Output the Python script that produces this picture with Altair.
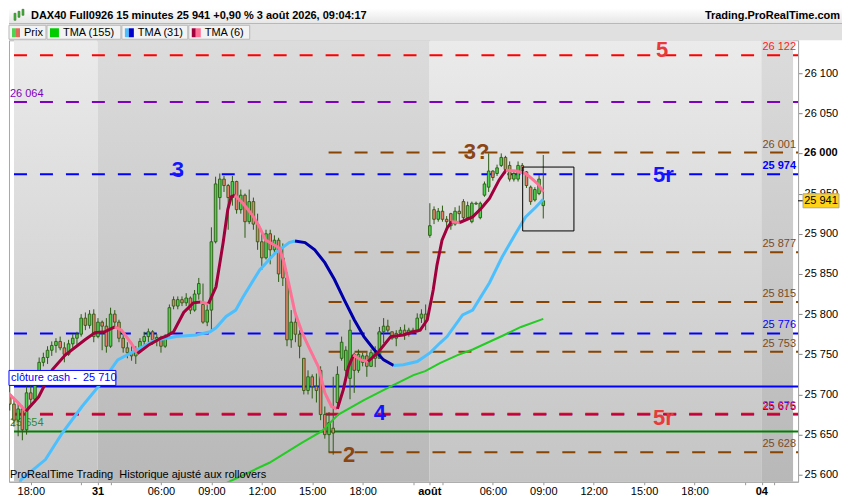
import altair as alt
import pandas as pd

# ------------------------------------------------------------------ data
bar_pos = list(range(-5, 123))
opens = [25700, 25688, 25668, 25682, 25656, 25702, 25694, 25720, 25740, 25746,
         25755, 25761, 25766, 25758, 25750, 25763, 25770, 25775, 25795, 25786,
         25800, 25772, 25790, 25785, 25760, 25800, 25790, 25770, 25758, 25752,
         25748, 25755, 25766, 25772, 25778, 25768, 25771, 25760, 25775, 25818,
         25810, 25818, 25814, 25820, 25805, 25825, 25812, 25790, 25805, 25890,
         25945, 25968, 25960, 25945, 25965, 25930, 25948, 25915, 25940, 25912,
         25890, 25870, 25900, 25880, 25892, 25870, 25845, 25768, 25790, 25775,
         25745, 25705, 25722, 25710, 25730, 25675, 25650, 25658, 25690, 25745,
         25730, 25720, 25750, 25730, 25740, 25748, 25735, 25752, 25745, 25778,
         25785, 25778, 25770, 25776, 25780, 25775, 25780, 25778, 25795, 25800,
         25898, 25930, 25918, 25928, 25918, 25925, 25912, 25928, 25940, 25920,
         25915, 25938, 25920, 25948, 25958, 25978, 25975, 25985, 25995, 25985,
         25968, 25968, 25985, 25977, 25958, 25942, 25950, 25935]
highs = [25712, 25695, 25690, 25686, 25710, 25712, 25726, 25746, 25752, 25760,
         25766, 25770, 25772, 25765, 25768, 25775, 25778, 25800, 25802, 25805,
         25806, 25795, 25792, 25795, 25808, 25805, 25793, 25775, 25765, 25760,
         25760, 25770, 25778, 25782, 25780, 25775, 25773, 25775, 25812, 25822,
         25822, 25822, 25826, 25822, 25830, 25845, 25838, 25812, 25908, 25971,
         25975, 25972, 25962, 25972, 25966, 25955, 25950, 25955, 25945, 25925,
         25900, 25905, 25905, 25898, 25895, 25888, 25852, 25805, 25802, 25780,
         25745, 25730, 25725, 25726, 25735, 25685, 25678, 25722, 25735, 25772,
         25760, 25793, 25752, 25756, 25752, 25752, 25756, 25760, 25784, 25795,
         25793, 25778, 25780, 25784, 25787, 25783, 25783, 25801, 25806, 25812,
         25938, 25934, 25932, 25935, 25922, 25926, 25933, 25935, 25943, 25940,
         25940, 25940, 25940, 25965, 26000, 25979, 25986, 26000, 25997, 25990,
         25977, 25990, 25988, 25978, 25960, 25958, 25973, 25998]
lows = [25680, 25660, 25648, 25643, 25650, 25685, 25690, 25710, 25735, 25738,
        25748, 25752, 25755, 25740, 25748, 25758, 25762, 25772, 25780, 25782,
        25765, 25770, 25755, 25752, 25758, 25782, 25765, 25752, 25745, 25742,
        25738, 25752, 25760, 25765, 25762, 25760, 25752, 25758, 25770, 25806,
        25806, 25810, 25810, 25800, 25803, 25818, 25788, 25785, 25780, 25888,
        25930, 25952, 25905, 25935, 25925, 25925, 25895, 25912, 25905, 25880,
        25855, 25868, 25862, 25875, 25840, 25835, 25760, 25758, 25765, 25745,
        25700, 25700, 25695, 25690, 25668, 25645, 25628, 25625, 25685, 25742,
        25722, 25694, 25702, 25727, 25735, 25722, 25735, 25734, 25745, 25764,
        25777, 25768, 25760, 25774, 25768, 25772, 25776, 25778, 25789, 25780,
        25895, 25912, 25915, 25915, 25905, 25905, 25910, 25912, 25915, 25918,
        25913, 25936, 25918, 25946, 25952, 25966, 25972, 25983, 25975, 25965,
        25965, 25965, 25975, 25957, 25936, 25940, 25948, 25919]
closes = [25688, 25668, 25682, 25656, 25702, 25694, 25720, 25740, 25746, 25755,
          25761, 25766, 25758, 25750, 25763, 25770, 25775, 25795, 25786, 25800,
          25772, 25790, 25785, 25760, 25800, 25790, 25770, 25758, 25752, 25748,
          25755, 25766, 25772, 25778, 25768, 25771, 25760, 25772, 25808, 25810,
          25818, 25814, 25820, 25805, 25825, 25838, 25790, 25805, 25890, 25962,
          25968, 25960, 25945, 25965, 25930, 25948, 25915, 25940, 25912, 25890,
          25870, 25900, 25880, 25892, 25850, 25845, 25768, 25790, 25775, 25760,
          25705, 25722, 25710, 25705, 25675, 25650, 25665, 25652, 25725, 25765,
          25755, 25780, 25730, 25750, 25748, 25735, 25752, 25745, 25778, 25785,
          25780, 25770, 25776, 25780, 25775, 25780, 25778, 25795, 25800, 25790,
          25910, 25918, 25928, 25918, 25915, 25910, 25928, 25925, 25920, 25935,
          25938, 25937, 25938, 25962, 25978, 25970, 25982, 25995, 25980, 25968,
          25975, 25985, 25978, 25960, 25940, 25955, 25968, 25941]

# TMA (6): segment id, bar position, value, direction
tma6_seg = [0, 0, 0,
            1, 1, 1, 1, 1, 1, 1, 1,
            2, 2, 2, 2,
            3, 3, 3, 3, 3, 3, 3, 3,
            4, 4,
            5, 5, 5, 5, 5, 5,
            6, 6, 6, 6, 6, 6, 6, 6, 6, 6, 6, 6, 6, 6, 6, 6,
            7, 7, 7, 7,
            8, 8, 8,
            9, 9, 9, 9, 9, 9, 9, 9, 9, 9, 9, 9,
            10, 10,
            11, 11, 11, 11, 11, 11,
            12, 12, 12, 12, 12, 12]
tma6_p = [-5.4, -3.05, -1.17,
          -1.17, 1.88, 5.16, 8.2, 12.9, 15.3, 17.6, 20.0,
          20.0, 21.6, 23.9, 25.4,
          25.4, 28.2, 31.0, 32.4, 34.0, 36.4, 38.7, 40.4,
          40.4, 42.3,
          42.3, 44.1, 45.8, 46.9, 47.7, 48.6,
          48.6, 50.5, 52.8, 54.5, 55.9, 58.0, 59.2, 60.3, 61.5, 62.9, 64.6, 66.2, 68.5, 70.0, 71.6, 73.0,
          73.0, 74.4, 75.6, 76.8,
          76.8, 78.6, 80.3,
          80.3, 82.6, 85.7, 88.7, 91.1, 92.7, 94.4, 95.8, 96.7, 97.9, 99.1, 100.2,
          100.2, 102.1,
          102.1, 105.2, 107.3, 109.2, 111.5, 113.1,
          113.1, 115.5, 117.8, 119.2, 120.9, 122.0]
tma6_v = [25702, 25690, 25679,
          25679, 25697, 25731, 25749, 25768, 25777, 25778, 25784,
          25784, 25780, 25764, 25751,
          25751, 25762, 25770, 25773, 25778, 25802, 25814, 25815,
          25815, 25813,
          25813, 25834, 25889, 25930, 25946, 25948,
          25948, 25938, 25923, 25908, 25892, 25886, 25882, 25864, 25836, 25802, 25777, 25759, 25734, 25702, 25685, 25682,
          25682, 25706, 25734, 25749,
          25749, 25743, 25741,
          25741, 25752, 25772, 25774, 25778, 25780, 25793, 25830, 25861, 25892, 25907, 25915,
          25915, 25914,
          25914, 25921, 25932, 25944, 25967, 25979,
          25979, 25978, 25975, 25969, 25961, 25952]
tma6_dir = ["dn", "up", "dn", "up", "dn", "up", "dn", "up", "dn", "up", "dn", "up", "dn"]

# TMA (31)
tma31_seg = [0] * 20 + [1] * 11 + [2] * 14
tma31_p = [-3.0, -2.3, 3.5, 7.5, 12.2, 16.9, 20.7, 25.4, 29.3, 34.7, 39.4, 42.7, 44.1, 46.5, 48.8, 50.5, 54.5, 58.2, 61.5, 62.9,
           62.9, 65.3, 67.6, 70.0, 72.3, 74.6, 77.0, 79.3, 81.7, 84.0, 86.4,
           86.4, 88.7, 92.0, 95.1, 97.4, 99.1, 102.8, 105.2, 109.2, 112.2, 115.5, 117.8, 120.2, 122.0]
tma31_v = [25585, 25594, 25619, 25652, 25685, 25715, 25743, 25756, 25767, 25772, 25774, 25778, 25783, 25797, 25805, 25821, 25855, 25876, 25889, 25891,
           25891, 25889, 25880, 25864, 25843, 25818, 25793, 25772, 25756, 25743, 25736,
           25736, 25737, 25741, 25752, 25764, 25772, 25799, 25805, 25839, 25871, 25901, 25921, 25933, 25943]
tma31_dir = ["up", "dn", "up"]

# TMA (155)
tma155_p = [45.8, 56.8, 64.6, 69.2, 73.2, 79.3, 85.7, 91.1, 93.9, 97.4, 101.6, 105.2, 112.7, 116.7, 122.0]
tma155_v = [25588, 25615, 25640, 25654, 25675, 25693, 25710, 25724, 25729, 25739, 25749, 25756, 25774, 25784, 25794]

# horizontal levels
level_val = [26122, 26064, 26001, 25974, 25877, 25815, 25776, 25753, 25710, 25675, 25676, 25654, 25628]
level_kind = ["red", "purple", "brown", "blue", "brown", "brown", "blue", "brown", "blue", "blue", "red", "green", "brown"]
level_dashed = [True, True, True, True, True, True, True, True, False, True, True, False, True]
level_from = [None, None, 70.9, None, 70.9, 70.9, None, 70.9, None, None, None, None, 70.9]

right_val = [26122, 26001, 25974, 25877, 25815, 25776, 25753, 25675, 25676, 25628]
right_txt = ["26 122", "26 001", "25 974", "25 877", "25 815", "25 776", "25 753", "25 675", "25 676", "25 628"]
right_kind = ["red", "brown", "blue", "brown", "brown", "blue", "brown", "blue", "red", "brown"]
right_bold = [False, False, True, False, False, False, False, False, False, False]

left_val = [26064, 25654]
left_txt = ["26 064", "25 654"]
left_kind = ["purple", "green"]

ann_txt = ["5", "3", "5r", "3?", "4", "5r", "2"]
ann_p = [150.3, 35.0, 150.6, 106.1, 83.1, 150.6, 75.8]
ann_v = [26129, 25979, 25973, 26002, 25677, 25671, 25625]
ann_kind = ["red", "blue", "blue", "brown", "blue", "red", "brown"]

box_p = [117.1, 129.3]
box_v = [25903.5, 25983]

cash_close = 25710
last_price = 25941

price_ticks = [25600, 25650, 25700, 25750, 25800, 25850, 25900, 25950, 26000, 26050, 26100, 26150]
bold_price = 26000
time_ticks = [0, 12, 16, 19, 31, 43, 55, 67, 79, 91, 95, 98, 110, 122, 134, 146, 158, 170, 174, 177]
time_labels = ["18:00", "", "31", "", "06:00", "09:00", "12:00", "15:00", "18:00", "", "août", "",
               "06:00", "09:00", "12:00", "15:00", "18:00", "", "04", ""]
day_ticks = [16, 95, 174]
day_bounds = [15.9, 94.9, 173.9]

title_txt = "DAX40 Full0926 15 minutes 25 941 +0,90 % 3 août 2026, 09:04:17"
site_txt = "Trading.ProRealTime.com"
footer_txt = "ProRealTime Trading\u00a0 Historique ajusté aux rollovers"
legend_txt = ["Prix", "TMA (155)", "TMA (31)", "TMA (6)"]

# ------------------------------------------------------------------ styling
W, H = 790, 442
P_MIN, P_MAX = -3.99, 181.46
V_MIN, V_MAX = 25591.4, 26140.8
FONT = "Liberation Sans"

LINE_COL = {"red": "#ff0000", "purple": "#8000c0", "brown": "#884400", "blue": "#0000ff", "green": "#008000"}
LBL_COL = {"red": "#ff1a1a", "purple": "#8000c0", "brown": "#7d4a1c", "blue": "#0000ff", "green": "#2e8b2e"}
ANN_COL = {"red": "#e83a3a", "blue": "#1414ff", "brown": "#8b4513"}
T6 = {"up": "#a0003c", "dn": "#ff7096"}
T31 = {"up": "#4cc0ff", "dn": "#0000aa"}

xs = alt.Scale(domain=[P_MIN, P_MAX], nice=False, zero=False)
ys = alt.Scale(domain=[V_MIN, V_MAX], nice=False, zero=False)

one = pd.DataFrame({"a": [0]})

def grad(c0, c1):
    return alt.Gradient(gradient="linear",
                        stops=[alt.GradientStop(color=c0, offset=0), alt.GradientStop(color=c1, offset=1)],
                        x1=0, x2=0, y1=0, y2=1)

def prect(x0, x1, y0, y1, **mk):
    return alt.Chart(one).mark_rect(**mk).encode(
        x=alt.value(x0), x2=alt.value(x1), y=alt.value(y0), y2=alt.value(y1))

def ptext(x, y, s, **mk):
    base = dict(font=FONT, fontSize=11, baseline="middle", align="left", color="black")
    base.update(mk)
    return alt.Chart(one).mark_text(**base).encode(x=alt.value(x), y=alt.value(y), text=alt.value(s))

# ------------------------------------------------------------------ frames
candles = pd.DataFrame({"p": bar_pos, "o": opens, "h": highs, "l": lows, "c": closes})
candles["dir"] = ["up" if c >= o else "dn" for o, c in zip(opens, closes)]

t6 = pd.DataFrame({"seg": tma6_seg, "p": tma6_p, "v": tma6_v})
t6["col"] = [T6[tma6_dir[s]] for s in tma6_seg]
t31 = pd.DataFrame({"seg": tma31_seg, "p": tma31_p, "v": tma31_v})
t31["col"] = [T31[tma31_dir[s]] for s in tma31_seg]
t155 = pd.DataFrame({"p": tma155_p, "v": tma155_v})

lv = pd.DataFrame({"v": level_val, "kind": level_kind, "dashed": level_dashed,
                   "x0": [P_MIN if f is None else f for f in level_from]})
lv["col"] = [LINE_COL[k] for k in level_kind]
lv_dash = lv[lv.dashed]
lv_solid = lv[~lv.dashed]

rl = pd.DataFrame({"v": right_val, "t": right_txt, "col": [LBL_COL[k] for k in right_kind], "b": right_bold})
rl_norm = rl[~rl.b]
rl_bold = rl[rl.b]
ll = pd.DataFrame({"v": left_val, "t": left_txt, "col": [LBL_COL[k] for k in left_kind]})
ann = pd.DataFrame({"t": ann_txt, "p": ann_p, "v": ann_v, "col": [ANN_COL[k] for k in ann_kind]})

edges = [P_MIN] + day_bounds + [P_MAX]
days = pd.DataFrame({"x0": edges[:-1], "x1": edges[1:]})
light_days = days.iloc[[0, 2]]
dark_days = days.iloc[[1, 3]]

day_lbl = pd.DataFrame({"p": day_ticks, "t": [time_labels[time_ticks.index(d)] for d in day_ticks]})
bold_lbl = pd.DataFrame({"v": [bold_price], "t": ["26 000"]})

# ------------------------------------------------------------------ axes
# day names and the 26 000 level are written bold by text layers; the axes write the rest
plain_labels = ["" if t in day_ticks else s for t, s in zip(time_ticks, time_labels)]
lab_arr = "[" + ",".join("'" + s + "'" for s in plain_labels) + "]"
pos_arr = "[" + ",".join(str(v) for v in time_ticks) + "]"

xaxis = alt.Axis(values=time_ticks, labelExpr=f"{lab_arr}[indexof({pos_arr}, datum.value)]",
                 title=None, grid=False, labelFont=FONT, labelFontSize=11, labelColor="black",
                 tickColor="#999999", tickSize=3, labelPadding=1, domainColor="#a8a8a8",
                 labelFlush=False, labelOverlap=False)
yaxis = alt.Axis(orient="right", values=price_ticks,
                 labelExpr=f"datum.value == {bold_price} ? '' : replace(format(datum.value, ','), ',', ' ')",
                 title=None, grid=False, labelFont=FONT, labelFontSize=11, labelColor="black",
                 tickColor="#888888", tickSize=4, labelPadding=2, domainColor="#a8a8a8",
                 labelFlush=False, labelOverlap=False)

# other layers leave the axis unspecified so the one explicit axis is kept when merged
def X(f, **k):
    return alt.X(f, scale=xs, **k)

def Y(f, **k):
    return alt.Y(f, scale=ys, **k)

# ------------------------------------------------------------------ layers
bg_light = alt.Chart(light_days).mark_rect(fill=grad("#ebebeb", "#c4c4c4")).encode(
    x=alt.X("x0:Q", scale=xs, axis=xaxis), x2="x1:Q", y=alt.value(0), y2=alt.value(H))
bg_dark = alt.Chart(dark_days).mark_rect(fill=grad("#dcdcdc", "#b8b8b8")).encode(
    x=X("x0:Q"), x2="x1:Q", y=alt.value(0), y2=alt.value(H))

lines_dash = alt.Chart(lv_dash).mark_rule(strokeWidth=2, strokeDash=[13, 13]).encode(
    x=X("x0:Q"), x2=alt.value(W), y=alt.Y("v:Q", scale=ys, axis=yaxis), color=alt.Color("col:N", scale=None))
lines_solid = alt.Chart(lv_solid).mark_rule(strokeWidth=2).encode(
    x=X("x0:Q"), x2=alt.value(W), y=Y("v:Q"), color=alt.Color("col:N", scale=None))

right_lbl = alt.Chart(rl_norm).mark_text(font=FONT, fontSize=11, align="right", baseline="middle", dy=-8).encode(
    x=alt.value(W - 2), y=Y("v:Q"), text="t:N", color=alt.Color("col:N", scale=None))
right_lbl_b = alt.Chart(rl_bold).mark_text(font=FONT, fontSize=11, fontWeight="bold", align="right",
                                           baseline="middle", dy=-8).encode(
    x=alt.value(W - 2), y=Y("v:Q"), text="t:N", color=alt.Color("col:N", scale=None))
left_lbl = alt.Chart(ll).mark_text(font=FONT, fontSize=11, align="left", baseline="middle", dy=-8).encode(
    x=alt.value(1), y=Y("v:Q"), text="t:N", color=alt.Color("col:N", scale=None))

wicks = alt.Chart(candles).mark_rule(color="#2b5a12", strokeWidth=1, clip=True).encode(
    x=X("p:Q"), y=Y("l:Q"), y2="h:Q")
bodies = alt.Chart(candles).mark_bar(size=2.6, stroke="#2b5a12", strokeWidth=0.9, clip=True).encode(
    x=X("p:Q"), y=Y("o:Q"), y2="c:Q",
    color=alt.Color("dir:N", scale=alt.Scale(domain=["up", "dn"], range=["#4fd24f", "#e8826e"]), legend=None))

l155 = alt.Chart(t155).mark_line(strokeWidth=2, color="#22cc22", clip=True).encode(x=X("p:Q"), y=Y("v:Q"))
l31 = alt.Chart(t31).mark_line(strokeWidth=3, clip=True).encode(
    x=X("p:Q"), y=Y("v:Q"), detail="seg:N", color=alt.Color("col:N", scale=None))
l6 = alt.Chart(t6).mark_line(strokeWidth=3, clip=True).encode(
    x=X("p:Q"), y=Y("v:Q"), detail="seg:N", color=alt.Color("col:N", scale=None))

box = alt.Chart(pd.DataFrame({"p0": [box_p[0]], "p1": [box_p[1]], "v0": [box_v[0]], "v1": [box_v[1]]})).mark_rect(
    fillOpacity=0, stroke="black", strokeWidth=1).encode(x=X("p0:Q"), x2="p1:Q", y=Y("v0:Q"), y2="v1:Q")

annot = alt.Chart(ann).mark_text(font=FONT, fontSize=22, fontWeight="bold", align="center", baseline="middle").encode(
    x=X("p:Q"), y=Y("v:Q"), text="t:N", color=alt.Color("col:N", scale=None))

cash_df = pd.DataFrame({"v": [cash_close], "t": ["clôture cash -\u00a0 25 710"]})
cash_box = alt.Chart(cash_df).mark_rect(fill="white", stroke="#0000ff", strokeWidth=1, yOffset=-16, y2Offset=-1).encode(
    x=alt.value(0), x2=alt.value(107), y=Y("v:Q"), y2="v:Q")
cash_txt = alt.Chart(cash_df).mark_text(font=FONT, fontSize=11, align="left", baseline="middle", dy=-8.5,
                                        color="#0000ff").encode(x=alt.value(2), y=Y("v:Q"), text="t:N")

footer = ptext(1, H - 7, footer_txt)

day_txt = alt.Chart(day_lbl).mark_text(font=FONT, fontSize=11, fontWeight="bold", align="center",
                                       baseline="top", color="black").encode(
    x=X("p:Q"), y=alt.value(H + 4), text="t:N")
bold_txt = alt.Chart(bold_lbl).mark_text(font=FONT, fontSize=11, fontWeight="bold", align="left",
                                         baseline="middle", color="black").encode(
    x=alt.value(W + 6), y=Y("v:Q"), text="t:N")

last_df = pd.DataFrame({"v": [last_price], "t": ["25 941"]})
tag_tick = alt.Chart(last_df).mark_rule(color="black", strokeWidth=1).encode(
    x=alt.value(W), x2=alt.value(W + 5), y=Y("v:Q"))
tag_box = alt.Chart(last_df).mark_rect(fill="#ffd21a", stroke="#a8a8a8", strokeWidth=1, yOffset=-7, y2Offset=7).encode(
    x=alt.value(W + 5), x2=alt.value(W + 41), y=Y("v:Q"), y2="v:Q")
tag_txt = alt.Chart(last_df).mark_text(font=FONT, fontSize=11, align="center", baseline="middle", color="black").encode(
    x=alt.value(W + 23), y=Y("v:Q"), text="t:N")

# header
RW = 834
header = [
    prect(0, RW, -32, -16, fill=grad("#ffffff", "#e4e4e4")),
    prect(0, RW, -17, -16, fill="#a8a8a8"),
    prect(0, RW, -16, 0, fill="#e0e0e0"),
    prect(5, 7, -27, -20, fill="#44bb44", stroke="#2b5a12", strokeWidth=0.5),
    prect(9, 11, -29, -23, fill="#44bb44", stroke="#2b5a12", strokeWidth=0.5),
    prect(13, 15, -31, -25, fill="#44bb44", stroke="#2b5a12", strokeWidth=0.5),
    ptext(22, -24, title_txt, fontWeight="bold"),
    ptext(RW - 2, -24, site_txt, fontWeight="bold", align="right"),
]
boxes = [(0, 37), (38, 112), (113, 179), (180, 241)]
swatches = [[(3, 7, "#4fd24f"), (7, 11, "#e06a5a")],
            [(41, 50, "#00cc00")],
            [(116, 120, "#4cc0ff"), (120, 125, "#0000cc")],
            [(183, 187, "#a0003c"), (187, 192, "#ff6f96")]]
text_x = [15, 54, 129, 196]
for (b0, b1), sw, tx, lt in zip(boxes, swatches, text_x, legend_txt):
    header.append(prect(b0, b1, -15, -1, fill="#f3f3f3", stroke="#b8b8b8", strokeWidth=1))
    for s0, s1, sc in sw:
        header.append(prect(s0, s1, -12, -3, fill=sc))
    header.append(ptext(tx, -7.5, lt))

chart = alt.layer(
    bg_light, bg_dark, lines_dash, lines_solid, right_lbl, right_lbl_b, left_lbl,
    wicks, bodies, l155, l31, l6, box, annot, cash_box, cash_txt, footer,
    day_txt, bold_txt, tag_tick, tag_box, tag_txt, *header
).properties(width=W, height=H, padding=0, background="white").configure_view(stroke="#a8a8a8")

chart.save("out.html", embed_options={"renderer": "svg", "actions": False})
